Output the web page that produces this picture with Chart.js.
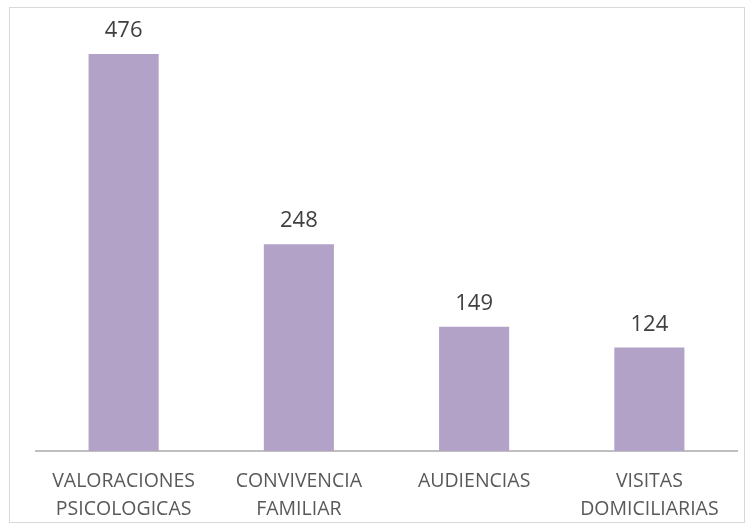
<!DOCTYPE html>
<html>
<head>
<meta charset="utf-8">
<script src="https://cdn.jsdelivr.net/npm/chart.js@4/dist/chart.umd.min.js"></script>
<style>
  html, body { margin: 0; padding: 0; background: #ffffff; }
  #wrap { position: relative; width: 754px; height: 531px; }
</style>
</head>
<body>
<div id="wrap"><canvas id="c" width="754" height="531"></canvas></div>
<script>
const categories = [
  ["VALORACIONES", "PSICOLOGICAS"],
  ["CONVIVENCIA", "FAMILIAR"],
  "AUDIENCIAS",
  ["VISITAS", "DOMICILIARIAS"]
];
const values = [476, 248, 149, 124];

const borderPlugin = {
  id: 'outerBorder',
  beforeDraw(chart) {
    const ctx = chart.ctx;
    ctx.save();
    ctx.fillStyle = '#ffffff';
    ctx.fillRect(0, 0, chart.width, chart.height);
    ctx.strokeStyle = '#D9D9D9';
    ctx.lineWidth = 1;
    ctx.strokeRect(9.5, 7.5, 735, 515);
    ctx.restore();
  }
};

const valueLabels = {
  id: 'valueLabels',
  afterDatasetsDraw(chart) {
    const ctx = chart.ctx;
    const meta = chart.getDatasetMeta(0);
    ctx.save();
    ctx.font = '22px "Open Sans", sans-serif';
    ctx.fillStyle = '#404040';
    ctx.textAlign = 'center';
    ctx.textBaseline = 'alphabetic';
    meta.data.forEach((bar, i) => {
      ctx.fillText(String(values[i]), bar.x, bar.y - 17);
    });
    ctx.restore();
  }
};

new Chart(document.getElementById('c'), {
  type: 'bar',
  data: {
    labels: categories,
    datasets: [{
      data: values,
      backgroundColor: '#B3A2C7',
      borderWidth: 0,
      barPercentage: 0.4,
      categoryPercentage: 1.0
    }]
  },
  options: {
    responsive: false,
    animation: false,
    layout: { padding: { left: 36, right: 17, top: 34, bottom: 0 } },
    plugins: { legend: { display: false }, tooltip: { enabled: false } },
    scales: {
      x: {
        grid: { display: false, drawTicks: false },
        border: { display: true, color: '#BFBFBF', width: 2 },
        ticks: {
          color: '#595959',
          font: { family: '"Open Sans", sans-serif', size: 19.5, lineHeight: 1.4 },
          padding: 17,
          maxRotation: 0,
          autoSkip: false
        },
        afterFit(scale) { scale.height = 80; }
      },
      y: {
        display: false,
        min: 0,
        max: 500
      }
    }
  },
  plugins: [borderPlugin, valueLabels]
});
</script>
</body>
</html>
